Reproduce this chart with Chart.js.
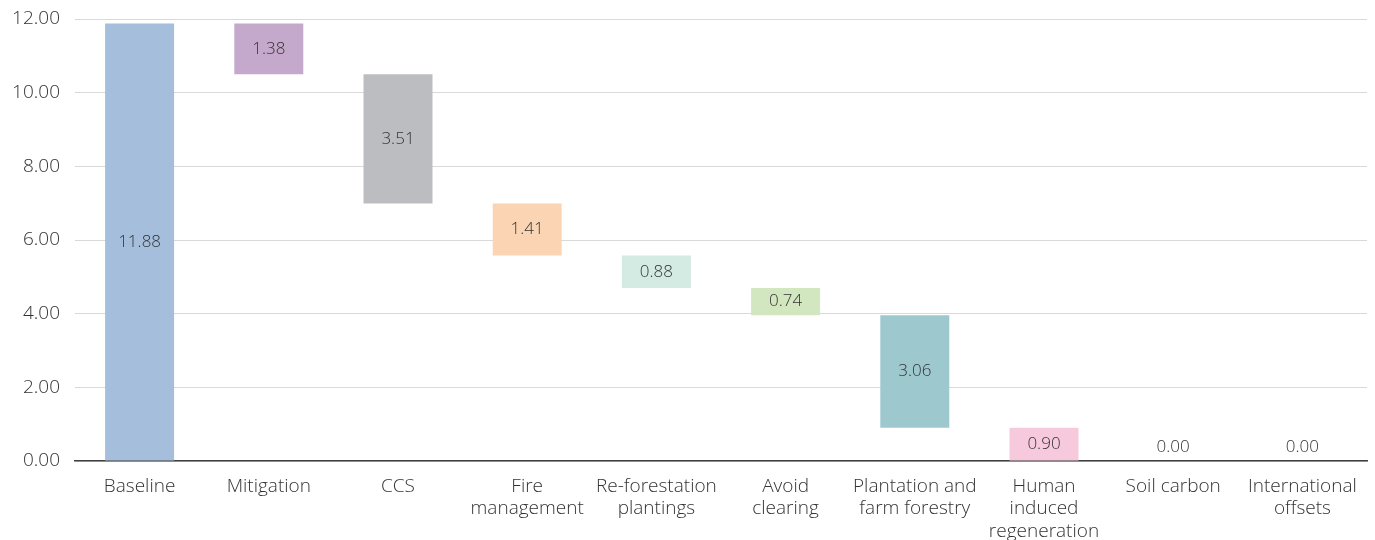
<!DOCTYPE html>
<html>
<head>
<meta charset="utf-8">
<script src="https://cdn.jsdelivr.net/npm/chart.js@4"></script>
<style>
  html, body { margin: 0; padding: 0; background: #fff; }
  #wrap { width: 1375px; height: 540px; position: relative; }
</style>
</head>
<body>
<div id="wrap"><canvas id="c" width="1375" height="540"></canvas></div>
<script>
const categories = [
  'Baseline', 'Mitigation', 'CCS', ['Fire', 'management'], ['Re-forestation', 'plantings'],
  ['Avoid', 'clearing'], ['Plantation and', 'farm forestry'], ['Human', 'induced', 'regeneration'],
  'Soil carbon', ['International', 'offsets']
];
const baselineValue = 11.88;
const reductions = [1.38, 3.51, 1.41, 0.88, 0.74, 3.06, 0.90, 0.00, 0.00];
const barColors = ['#a4bedc', '#c5a9cc', '#bcbdc1', '#fbd4b4', '#d3ebe2', '#d2e6bf', '#9dc8ce', '#f6c9dd', '#ffffff', '#ffffff'];
const yTicks = [0, 2, 4, 6, 8, 10, 12];

// Waterfall ranges
const ranges = [[0, baselineValue]];
const labelsValues = [baselineValue];
let level = baselineValue;
for (const r of reductions) {
  const next = Math.round((level - r) * 100) / 100;
  ranges.push([next, level]);
  labelsValues.push(r);
  level = next;
}

const FONT = '"Open Sans", "Noto Sans", sans-serif';

const valueLabels = {
  id: 'valueLabels',
  afterDatasetsDraw(chart) {
    const ctx = chart.ctx;
    const meta = chart.getDatasetMeta(0);
    ctx.save();
    ctx.font = '300 17px ' + FONT;
    ctx.fillStyle = '#333333';
    ctx.textAlign = 'center';
    ctx.textBaseline = 'middle';
    meta.data.forEach((bar, i) => {
      const top = Math.min(bar.y, bar.base);
      const bot = Math.max(bar.y, bar.base);
      let y = (top + bot) / 2;
      if (bot - top < 20) y = bot - 14;
      ctx.fillText(labelsValues[i].toFixed(2), bar.x, y);
    });
    ctx.restore();
  }
};

new Chart(document.getElementById('c'), {
  type: 'bar',
  data: {
    labels: categories,
    datasets: [{
      data: ranges,
      backgroundColor: barColors,
      borderWidth: 0,
      barPercentage: 0.534,
      categoryPercentage: 1.0
    }]
  },
  options: {
    responsive: false,
    animation: false,
    layout: { padding: { top: 19, right: 8, left: 0, bottom: 0 } },
    plugins: { legend: { display: false }, tooltip: { enabled: false } },
    scales: {
      x: {
        grid: { display: false, drawTicks: false },
        border: { display: true, color: '#404040', width: 1.5 },
        ticks: { color: '#333333', font: { family: FONT, size: 19, weight: '300', lineHeight: 1.16 }, padding: 15, maxRotation: 0, autoSkip: false },
        afterFit(scale) { scale.height = 79; scale.paddingLeft = 0; scale.paddingRight = 0; }
      },
      y: {
        min: 0, max: 12,
        afterBuildTicks(scale) { scale.ticks = yTicks.map(v => ({ value: v })); },
        grid: { color: '#d9d9d9', lineWidth: 1, drawTicks: false },
        border: { display: false },
        ticks: {
          color: '#333333', font: { family: FONT, size: 19, weight: '300' }, padding: 15,
          callback: v => Number(v).toFixed(2)
        },
        afterFit(scale) { scale.width = 75; scale.paddingTop = 0; scale.paddingBottom = 0; }
      }
    }
  },
  plugins: [valueLabels]
});
</script>
</body>
</html>
